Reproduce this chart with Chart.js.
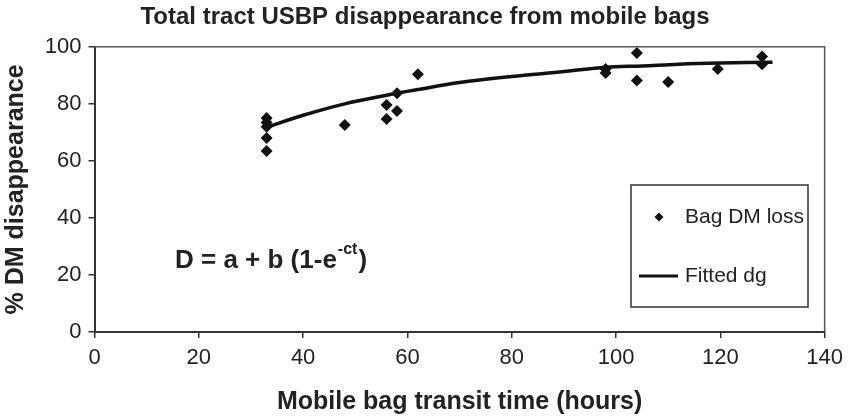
<!DOCTYPE html>
<html>
<head>
<meta charset="utf-8">
<script src="https://cdn.jsdelivr.net/npm/chart.js@4.4.1/dist/chart.umd.min.js"></script>
<style>
  html, body { margin: 0; padding: 0; background: #fff; }
  #wrap { width: 850px; height: 420px; }
</style>
</head>
<body>
<div id="wrap"><canvas id="usbp" width="850" height="420"></canvas></div>
<script>
// measured bag DM loss (transit hours, % DM disappearance)
var bagHours = [33, 33, 33, 33, 33, 48, 56, 56, 58, 58, 62, 98, 98, 104, 104, 110, 119.5, 128, 128];
var bagLoss  = [75, 73.5, 72, 68, 63.5, 72.6, 79.6, 74.7, 77.5, 83.7, 90.4, 92.2, 90.8, 97.8, 88.2, 87.7, 92.2, 96.6, 93.9];

// fitted curve
var fitHours = [33, 40, 48, 56, 62, 70, 80, 90, 98, 105, 112, 120, 130];
var fitLoss  = [71.8, 76, 80, 83, 85, 87.5, 89.6, 91.3, 92.8, 93.3, 93.9, 94.3, 94.6];

var xTicks = [0, 20, 40, 60, 80, 100, 120, 140];
var yTicks = [0, 20, 40, 60, 80, 100];

var ink = "#222";
var fontFam = "'Liberation Sans', Arial, Helvetica, sans-serif";

function toXY(xs, ys) {
  return xs.map(function (x, i) { return { x: x, y: ys[i] }; });
}

// frame, equation and legend box
var extras = {
  id: "extras",
  afterDraw: function (chart) {
    var ctx = chart.ctx;
    var a = chart.chartArea;
    ctx.save();
    // top + right frame
    ctx.strokeStyle = "#555";
    ctx.lineWidth = 1.5;
    ctx.beginPath();
    ctx.moveTo(a.left, a.top);
    ctx.lineTo(a.right, a.top);
    ctx.lineTo(a.right, a.bottom);
    ctx.stroke();

    // equation
    ctx.fillStyle = ink;
    ctx.textBaseline = "alphabetic";
    ctx.font = "bold 26px " + fontFam;
    var eqX = 175, eqY = 268;
    var main = "D = a + b (1-e";
    ctx.fillText(main, eqX, eqY);
    var w = ctx.measureText(main).width;
    ctx.font = "bold 16px " + fontFam;
    ctx.fillText("-ct", eqX + w + 1, eqY - 14);
    var w2 = ctx.measureText("-ct").width;
    ctx.font = "bold 26px " + fontFam;
    ctx.fillText(")", eqX + w + w2 + 2, eqY);

    // legend
    var lx = 631, ly = 185, lw = 177, lh = 122;
    ctx.strokeStyle = "#333";
    ctx.lineWidth = 1.5;
    ctx.strokeRect(lx, ly, lw, lh);
    ctx.fillStyle = "#111";
    ctx.beginPath();
    ctx.moveTo(659, 212.5);
    ctx.lineTo(663.5, 217);
    ctx.lineTo(659, 221.5);
    ctx.lineTo(654.5, 217);
    ctx.closePath();
    ctx.fill();
    ctx.strokeStyle = "#111";
    ctx.lineWidth = 3;
    ctx.beginPath();
    ctx.moveTo(639, 276);
    ctx.lineTo(678, 276);
    ctx.stroke();
    ctx.fillStyle = ink;
    ctx.font = "21px " + fontFam;
    ctx.textBaseline = "middle";
    ctx.fillText("Bag DM loss", 685, 217);
    ctx.fillText("Fitted dg", 685, 276);
    ctx.restore();
  }
};

var ctx = document.getElementById("usbp").getContext("2d");
var chart = new Chart(ctx, {
  data: {
    datasets: [
      {
        type: "scatter",
        label: "Bag DM loss",
        data: toXY(bagHours, bagLoss),
        pointStyle: "rectRot",
        pointRadius: 6,
        backgroundColor: "#111",
        borderColor: "#111",
        borderWidth: 0,
        order: 1
      },
      {
        type: "line",
        label: "Fitted dg",
        data: toXY(fitHours, fitLoss),
        borderColor: "#111",
        borderWidth: 3.5,
        pointRadius: 0,
        tension: 0.35,
        fill: false,
        order: 2
      }
    ]
  },
  options: {
    responsive: false,
    animation: false,
    layout: { padding: { top: 0, right: 0, left: 0, bottom: 0 } },
    plugins: {
      legend: { display: false },
      tooltip: { enabled: false },
      title: {
        display: true,
        text: "Total tract USBP disappearance from mobile bags",
        color: ink,
        font: { family: fontFam, size: 24, weight: "bold" },
        padding: { top: 3, bottom: 15 }
      }
    },
    scales: {
      x: {
        type: "linear",
        min: 0,
        max: 140,
        afterBuildTicks: function (s) { s.ticks = xTicks.map(function (v) { return { value: v }; }); },
        afterFit: function (s) { s.height = 88; },
        ticks: { color: ink, font: { family: fontFam, size: 22 }, padding: 7 },
        grid: { drawOnChartArea: false, drawTicks: true, tickLength: 6, color: "#333", lineWidth: 1.5 },
        border: { color: "#333", width: 2 },
        title: {
          display: true,
          text: "Mobile bag transit time (hours)",
          color: ink,
          font: { family: fontFam, size: 25, weight: "bold" },
          padding: { top: 0, bottom: 3 }
        }
      },
      y: {
        type: "linear",
        min: 0,
        max: 100,
        afterBuildTicks: function (s) { s.ticks = yTicks.map(function (v) { return { value: v }; }); },
        afterFit: function (s) { s.width = 94.5; },
        ticks: { color: ink, font: { family: fontFam, size: 22 }, padding: 7 },
        grid: { drawOnChartArea: false, drawTicks: true, tickLength: 6, color: "#333", lineWidth: 1.5 },
        border: { color: "#333", width: 2 },
        title: {
          display: true,
          text: "% DM disappearance",
          color: ink,
          font: { family: fontFam, size: 25, weight: "bold" },
          padding: { top: 1, bottom: 0 }
        }
      }
    }
  },
  plugins: [extras]
});
</script>
</body>
</html>
